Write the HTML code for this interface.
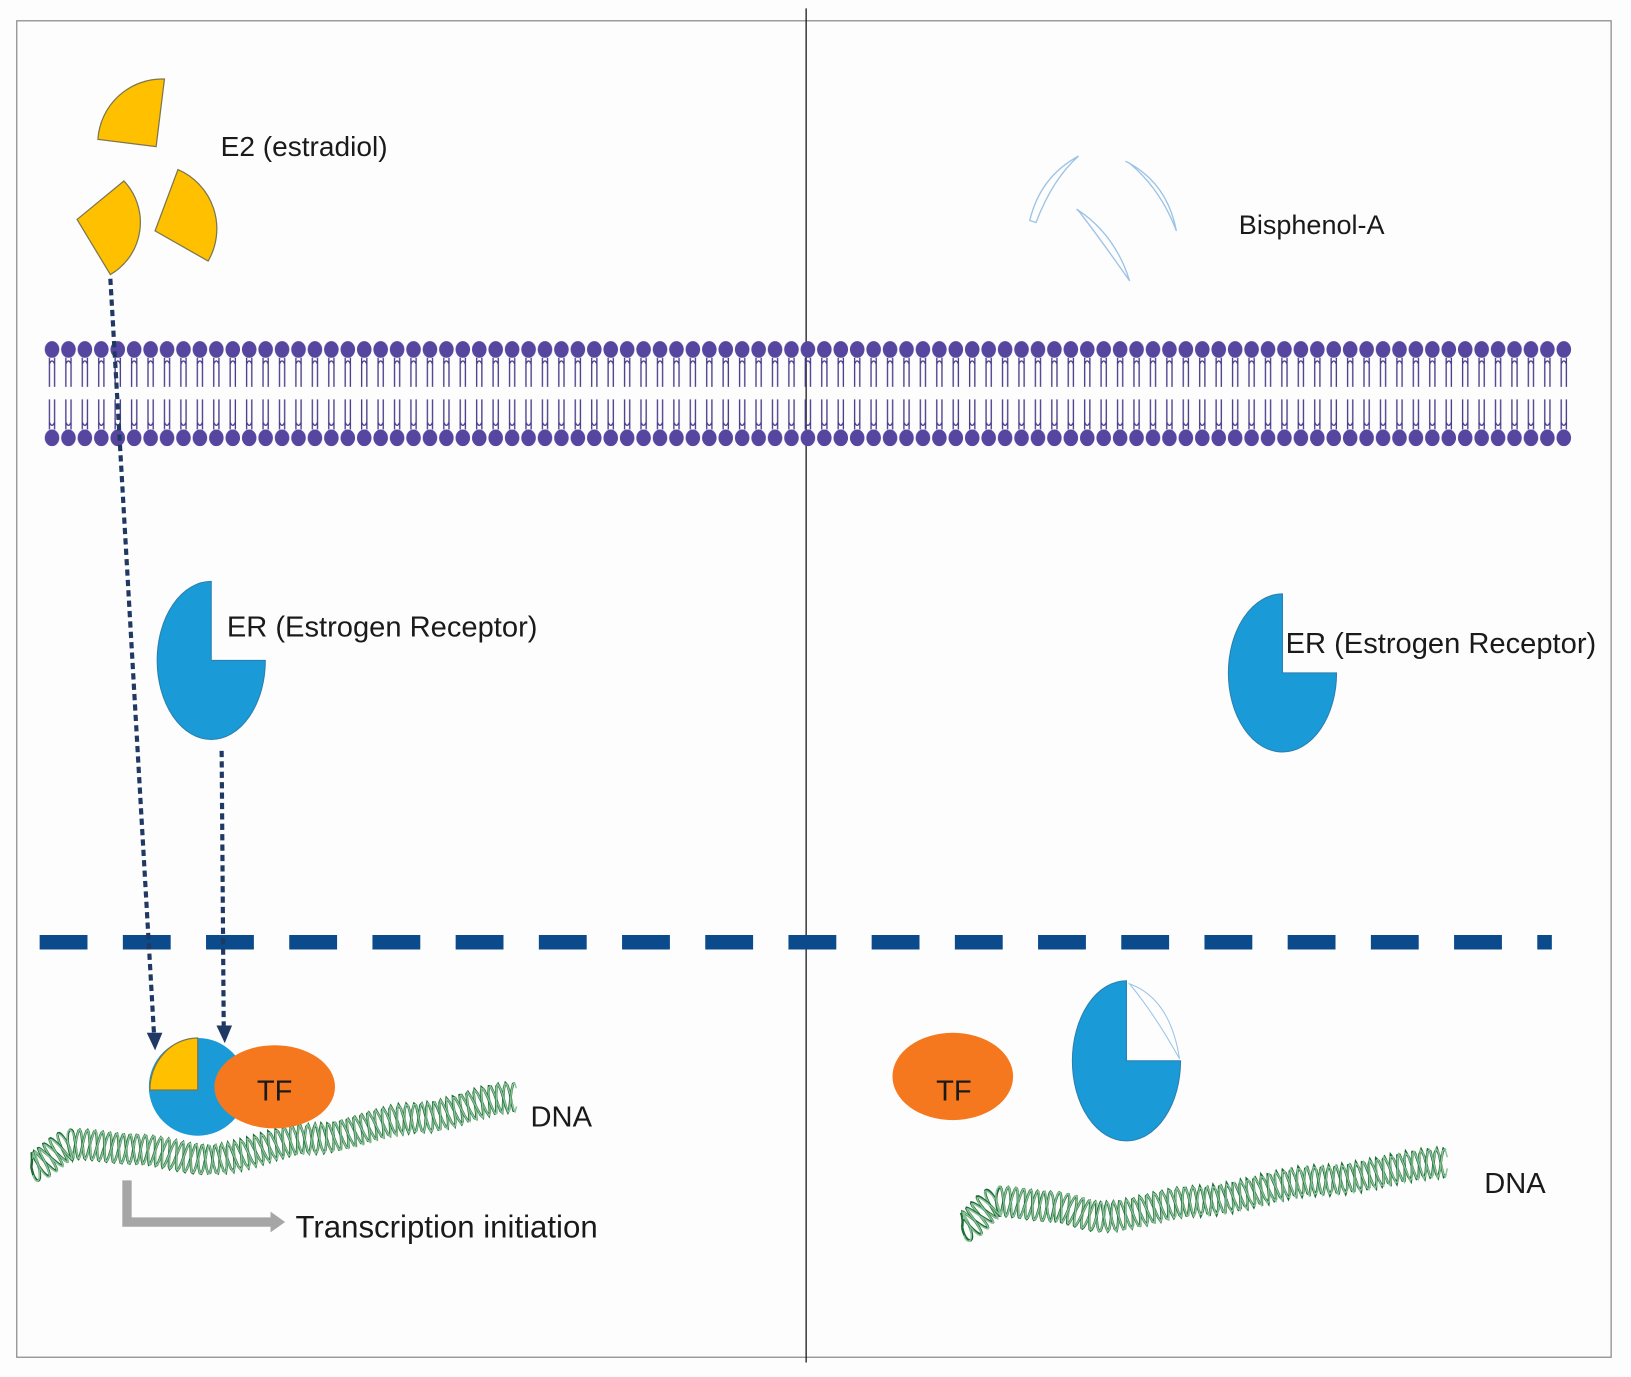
<!DOCTYPE html>
<html><head><meta charset="utf-8"><style>
html,body{margin:0;padding:0;background:#fdfdfd;}
svg{display:block;}
text{font-family:"Liberation Sans",sans-serif;fill:#1a1a1a;}
</style></head><body>
<svg id="s" width="1631" height="1377" viewBox="0 0 1568 1324" xmlns="http://www.w3.org/2000/svg">
<defs>
<pattern id="mem" patternUnits="userSpaceOnUse" x="42" y="0" width="15.8" height="1324">
<ellipse cx="7.9" cy="336" rx="7" ry="8" fill="#5646a0"/>
<ellipse cx="7.9" cy="421" rx="7" ry="8" fill="#5646a0"/>
<path d="M5.4 344 V372 M10.4 344 V372 M5.4 350 Q7.9 344 10.4 350" stroke="#4a3e8c" stroke-width="1.3" fill="none"/>
<path d="M5.4 384 V413 M10.4 384 V413 M5.4 406 Q7.9 412 10.4 406" stroke="#4a3e8c" stroke-width="1.3" fill="none"/>
</pattern>
</defs>
<rect x="0" y="0" width="1568" height="1324" fill="#fdfdfd"/>
<rect x="16" y="20" width="1533" height="1285" fill="none" stroke="#8a8a8a" stroke-width="1.2"/>
<line x1="775" y1="8" x2="775" y2="1310" stroke="#111" stroke-width="1.2"/>

<rect x="42" y="326" width="1470" height="104" fill="url(#mem)"/>

<line x1="38" y1="906" x2="1492" y2="906" stroke="#0b4a8b" stroke-width="14" stroke-dasharray="46 34"/>

<g fill="#ffc000" stroke="#7b7650" stroke-width="1.2">
<path d="M150 141 L94 134 A62 62 0 0 1 158 76 Z"/>
<path d="M74 211 L119 174 A58 58 0 0 1 106 264 Z"/>
<path d="M149 222 L171 163 A62 62 0 0 1 200 251 Z"/>
</g>
<text x="212" y="150" font-size="27">E2 (estradiol)</text>

<g fill="none" stroke="#9dc3e6" stroke-width="1.3">
<path d="M990 212 Q1000 170 1037 150 Q1012 172 996 214 Z"/>
<path d="M1082 155 Q1122 175 1131 222 Q1116 182 1086 157 Z"/>
<path d="M1035 201 Q1072 225 1086 270 Q1058 230 1038 204 Z"/>
</g>
<text x="1191" y="225" font-size="26">Bisphenol-A</text>

<path d="M203 635 L203 559 A52 76 0 1 0 255 635 Z" fill="#1a9ad6" stroke="#2a80b0" stroke-width="1"/>
<text x="218" y="612" font-size="28">ER (Estrogen Receptor)</text>
<path d="M1233 647 L1233 571 A52 76 0 1 0 1285 647 Z" fill="#1a9ad6" stroke="#2a80b0" stroke-width="1"/>
<text x="1236" y="628" font-size="28">ER (Estrogen Receptor)</text>

<g stroke="#203864" stroke-width="4" stroke-dasharray="6 4" fill="none">
<line x1="106" y1="268" x2="148" y2="995"/>
<line x1="213" y1="722" x2="215" y2="988"/>
</g>
<path d="M141 993 L156 993 L149 1010 Z" fill="#203864"/>
<path d="M208 986 L223 986 L216 1003 Z" fill="#203864"/>

<g id="dna"></g>

<circle cx="190" cy="1045" r="47" fill="#1a9ad6"/>
<path d="M190 1048 L144 1048 A46 50 0 0 1 190 998 Z" fill="#ffc000" stroke="#7b7650" stroke-width="1.2"/>
<ellipse cx="264" cy="1045" rx="58" ry="40" fill="#f5781e"/>
<text x="264" y="1058" font-size="28" text-anchor="middle">TF</text>
<text x="510" y="1083" font-size="28">DNA</text>

<path d="M122 1135 V1175 H262" stroke="#a6a6a6" stroke-width="9" fill="none"/>
<path d="M260 1165 L274 1175 L260 1185 Z" fill="#a6a6a6"/>
<text x="284" y="1190" font-size="30">Transcription initiation</text>

<ellipse cx="916" cy="1035" rx="58" ry="42" fill="#f5781e"/>
<text x="900" y="1058" font-size="28">TF</text>
<path d="M1083 1020 L1083 943 A52 77 0 1 0 1135 1020 Z" fill="#1a9ad6" stroke="#2a80b0" stroke-width="1"/>
<path d="M1086 946 Q1125 960 1134 1018 Q1110 975 1086 946 Z" fill="none" stroke="#9dc3e6" stroke-width="1"/>
<text x="1427" y="1147" font-size="28">DNA</text>
</svg>
<script>
(function(){
var g=document.getElementById('dna');var NS='http://www.w3.org/2000/svg';
function helix(pts,A,per){
 var c=[];for(var i=0;i<pts.length-1;i++){var p=pts[i],q=pts[i+1];var n=60;for(var k=0;k<n;k++){var t=k/n;var tt=(1-Math.cos(Math.PI*t))/2;c.push([p[0]+(q[0]-p[0])*t,p[1]+(q[1]-p[1])*tt]);}}
 c.push(pts[pts.length-1]);
 var s=0,outs=[[],[],[],[]];
 for(var i=0;i<c.length;i++){
  if(i>0){s+=Math.hypot(c[i][0]-c[i-1][0],c[i][1]-c[i-1][1]);}
  var a=c[Math.max(0,i-1)],b=c[Math.min(c.length-1,i+1)];var dx=b[0]-a[0],dy=b[1]-a[1],L=Math.hypot(dx,dy)||1;var nx=-dy/L,ny=dx/L;
  var ph=[0,0.6,Math.PI,Math.PI+0.6];
  for(var j=0;j<4;j++){var v=A*Math.sin(2*Math.PI*s/per+ph[j]);var sh=(s/per%1)*0;outs[j].push((c[i][0]+nx*v+ (j%2?1.5:0)).toFixed(1)+','+(c[i][1]+ny*v).toFixed(1));}
 }
 var cols=['#1d6b34','#8cc39a','#1d6b34','#8cc39a'];var w=[2.4,1.4,2.4,1.4];
 for(var j=0;j<4;j++){var pl=document.createElementNS(NS,'polyline');pl.setAttribute('points',outs[j].join(' '));pl.setAttribute('fill','none');pl.setAttribute('stroke',cols[j]);pl.setAttribute('stroke-width',w[j]);g.appendChild(pl);}
}
helix([[30,1122],[70,1100],[130,1105],[200,1115],[300,1095],[400,1075],[495,1055]],14,14);
helix([[925,1180],[960,1155],[1010,1160],[1060,1170],[1150,1155],[1270,1135],[1390,1118]],14,14);
})();
</script>
</body></html>
